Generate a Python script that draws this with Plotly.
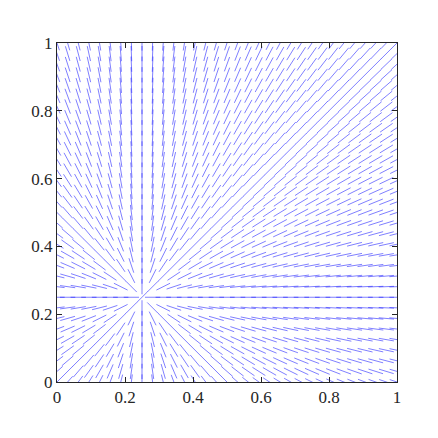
"""Direction field radiating from a single point."""

import numpy as np
import plotly.graph_objects as go

# grid of sample points (33 x 33, step 1/32)
grid_x = np.linspace(0, 1, 33)
grid_y = np.linspace(0, 1, 33)
# the field points away from this source point
source_x = 0.25
source_y = 0.25
segment_len = 0.045
# at the source itself the picture shows a 45 degree segment
source_dir = (1.0, 1.0)

tick_vals = [0, 0.2, 0.4, 0.6, 0.8, 1]
tick_text = ["0", "0.2", "0.4", "0.6", "0.8", "1"]

xs, ys = [], []
for gx in grid_x:
    for gy in grid_y:
        dx, dy = gx - source_x, gy - source_y
        if dx == 0 and dy == 0:
            dx, dy = source_dir
        norm = np.hypot(dx, dy)
        ux, uy = dx / norm * segment_len / 2, dy / norm * segment_len / 2
        xs += [gx - ux, gx + ux, None]
        ys += [gy - uy, gy + uy, None]

fig = go.Figure()
fig.add_trace(
    go.Scatter(
        x=xs,
        y=ys,
        mode="lines",
        line=dict(color="rgba(0,0,255,0.5)", width=1),
        hoverinfo="skip",
        showlegend=False,
    )
)

axis_style = dict(
    range=[0, 1],
    tickvals=tick_vals,
    ticktext=tick_text,
    ticks="inside",
    ticklen=5,
    tickwidth=1,
    tickcolor="#262626",
    showline=True,
    linecolor="#262626",
    linewidth=1,
    mirror="ticks",
    showgrid=False,
    zeroline=False,
    tickfont=dict(family="Liberation Serif, Times New Roman, serif", size=17, color="#262626"),
)

fig.update_xaxes(**axis_style)
fig.update_yaxes(**axis_style)
fig.update_layout(
    width=438,
    height=438,
    margin=dict(l=49, r=49, t=35, b=64),
    paper_bgcolor="white",
    plot_bgcolor="white",
)
fig.write_html("out.html")
